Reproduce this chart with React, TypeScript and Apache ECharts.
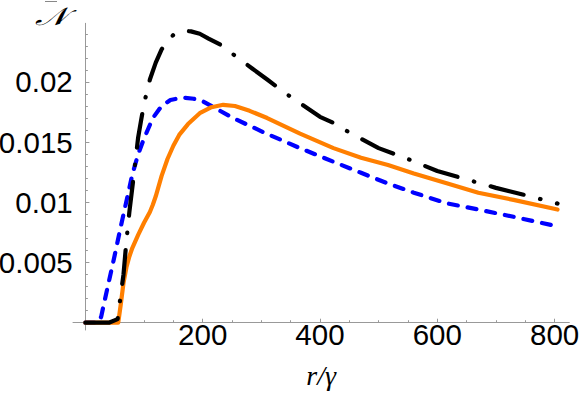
import React, { useEffect, useRef } from 'react';
import * as echarts from 'echarts';

// Tick values
const xMajorTicks = [200, 400, 600, 800];
const xMinorTicks = [50, 100, 150, 250, 300, 350, 450, 500, 550, 650, 700, 750];
const yMajorTicks = [0.005, 0.01, 0.015, 0.02];
const yMinorTicks = [
  0.001, 0.002, 0.003, 0.004, 0.006, 0.007, 0.008, 0.009, 0.011, 0.012, 0.013, 0.014,
  0.016, 0.017, 0.018, 0.019, 0.021, 0.022, 0.023, 0.024,
];

// Black dot-dashed curve
const blackX = [0, 20, 40, 55, 60, 65, 70, 75, 80, 85, 90, 95, 100, 110, 120, 130, 140, 150, 165, 180, 195, 210, 230, 260, 285, 310, 340, 370, 400, 425, 450, 500, 550, 600, 650, 700, 750, 805];
const blackY = [0, 0, 0, 0.0003, 0.0022, 0.004, 0.0068, 0.0092, 0.0112, 0.0133, 0.0154, 0.0168, 0.0182, 0.0202, 0.0216, 0.0227, 0.0234, 0.0239, 0.02425, 0.0242, 0.024, 0.0236, 0.0231, 0.022, 0.0211, 0.0202, 0.0191, 0.0181, 0.0171, 0.01655, 0.0158, 0.0145, 0.0136, 0.0126, 0.0119, 0.0112, 0.0106, 0.0099];

// Blue dashed curve
const blueX = [0, 22, 27, 30, 40, 50, 60, 70, 80, 90, 100, 115, 130, 145, 165, 185, 200, 252, 309, 366, 423, 470, 514, 560, 616, 670, 730, 805];
const blueY = [0, 0, 0.0005, 0.0012, 0.0034, 0.0056, 0.0079, 0.0101, 0.0123, 0.014, 0.0153, 0.017, 0.018, 0.0185, 0.0187, 0.0186, 0.0184, 0.017, 0.0157, 0.0145, 0.01337, 0.01245, 0.0116, 0.0108, 0.00992, 0.0094, 0.0088, 0.008];

// Orange solid curve
const orangeX = [0, 20, 40, 56, 60, 65, 70, 75, 80, 90, 100, 110, 115, 120, 130, 140, 150, 160, 175, 195, 215, 235, 255, 280, 310, 366, 423, 470, 516, 560, 616, 670, 730, 805];
const orangeY = [0, 0, 0, 0, 0.0014, 0.0033, 0.0046, 0.0055, 0.0062, 0.0073, 0.0083, 0.0092, 0.0098, 0.0105, 0.0122, 0.0136, 0.0147, 0.0156, 0.0165, 0.0174, 0.0179, 0.0181, 0.018, 0.0176, 0.017, 0.0157, 0.0145, 0.0137, 0.0131, 0.0124, 0.01158, 0.0108, 0.0102, 0.0094];

const pairs = (xs: number[], ys: number[]) => xs.map((x, i) => [x, ys[i]]);

const AXIS_COLOR = '#999999';
const X_MIN = -21.1;
const X_MAX = 825.1;
const Y_MIN = -0.000606;
const Y_MAX = 0.02487;

export default function App() {
  const ref = useRef<HTMLDivElement>(null);
  useEffect(() => {
    if (!ref.current) return;
    const chart = echarts.init(ref.current, undefined, { renderer: 'svg' });
    const labelFont = { fontFamily: '"Liberation Sans", Arial, sans-serif', fontSize: 29.5, color: '#000' };
    chart.setOption({
      animation: false,
      backgroundColor: '#ffffff',
      grid: { left: 73, right: 11.7, top: 23.3, bottom: 63, containLabel: false, outerBoundsMode: 'none' },
      xAxis: [
        {
          type: 'value', min: X_MIN, max: X_MAX, position: 'bottom',
          axisLine: { show: true, onZero: true, lineStyle: { color: AXIS_COLOR, width: 1 } },
          axisTick: { show: true, inside: true, length: 4, customValues: xMajorTicks, lineStyle: { color: AXIS_COLOR } },
          axisLabel: { show: true, customValues: xMajorTicks, margin: 4, lineHeight: 20, verticalAlign: 'middle', ...labelFont },
          splitLine: { show: false },
          name: 'r/γ', nameLocation: 'middle', nameGap: 31.5,
          nameTextStyle: { fontFamily: '"Liberation Serif", serif', fontStyle: 'italic', fontSize: 28, color: '#000' },
        },
        {
          type: 'value', min: X_MIN, max: X_MAX, position: 'bottom',
          axisLine: { show: true, onZero: true, lineStyle: { opacity: 0 } },
          axisTick: { show: true, inside: true, length: 2.5, customValues: xMinorTicks, lineStyle: { color: AXIS_COLOR } },
          axisLabel: { show: false },
          splitLine: { show: false },
        },
      ],
      yAxis: [
        {
          type: 'value', min: Y_MIN, max: Y_MAX, position: 'left',
          axisLine: { show: true, onZero: true, lineStyle: { color: AXIS_COLOR, width: 1 } },
          axisTick: { show: true, inside: true, length: 4, customValues: yMajorTicks, lineStyle: { color: AXIS_COLOR } },
          axisLabel: { show: true, customValues: yMajorTicks, margin: 0.3, padding: [0, 0, 14, 0], ...labelFont },
          splitLine: { show: false },
        },
        {
          type: 'value', min: Y_MIN, max: Y_MAX, position: 'left',
          axisLine: { show: true, onZero: true, lineStyle: { opacity: 0 } },
          axisTick: { show: true, inside: true, length: 2.5, customValues: yMinorTicks, lineStyle: { color: AXIS_COLOR } },
          axisLabel: { show: false },
          splitLine: { show: false },
        },
      ],
      graphic: [
        {
          type: 'text', left: 35, top: 3.5, scaleX: 1.35,
          style: { text: '𝒩', font: 'italic 25px "DejaVu Serif", "Liberation Serif", serif', fill: '#000' },
        },
        {
          type: 'line', shape: { x1: 45, y1: 1.5, x2: 57, y2: 1.5 },
          style: { stroke: '#888', lineWidth: 1 },
        },
      ],
      series: [
        {
          type: 'line', xAxisIndex: 0, yAxisIndex: 0, data: pairs(blueX, blueY),
          showSymbol: false, smooth: false,
          lineStyle: { color: '#0000ff', width: 4.2, type: [9, 10], cap: 'round', join: 'round' }, z: 2,
        },
        {
          type: 'line', xAxisIndex: 0, yAxisIndex: 0, data: pairs(orangeX, orangeY),
          showSymbol: false, smooth: false,
          lineStyle: { color: '#ff7f00', width: 4.2, type: 'solid', cap: 'round', join: 'round' }, z: 3,
        },
        {
          type: 'line', xAxisIndex: 0, yAxisIndex: 0, data: pairs(blackX, blackY),
          showSymbol: false, smooth: false,
          lineStyle: { color: '#000000', width: 4.2, type: [34, 17, 0.5, 17], cap: 'round', join: 'round' }, z: 4,
        },
      ],
    });
    return () => chart.dispose();
  }, []);
  return <div ref={ref} style={{ position: 'fixed', left: 0, top: 0, width: 581, height: 393 }} />;
}
